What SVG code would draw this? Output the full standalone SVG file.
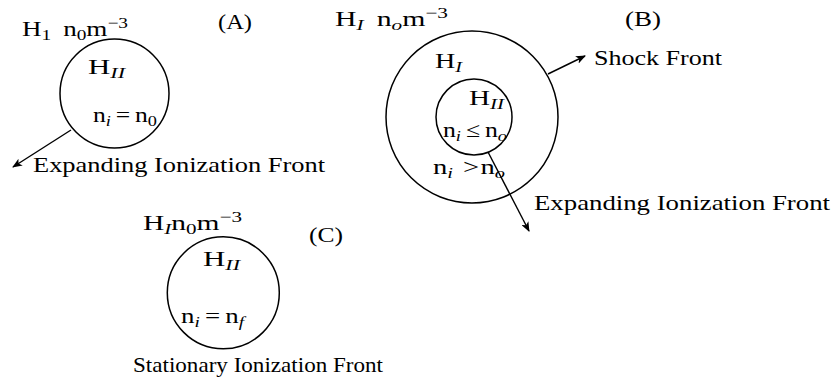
<svg xmlns="http://www.w3.org/2000/svg" width="834" height="389" viewBox="0 0 834 389">
<style>
text{font-family:"Liberation Serif","DejaVu Serif",serif;font-size:21px;fill:#000}
.sub{font-size:15px}
.it{font-style:italic}
.ring{fill:none;stroke:#000;stroke-width:1.5}
.arr{fill:none;stroke:#000;stroke-width:1.4;marker-end:url(#ah)}
</style>
<defs>
<marker id="ah" viewBox="0 0 10 8" refX="9" refY="4" markerWidth="10" markerHeight="8" markerUnits="userSpaceOnUse" orient="auto">
<path d="M0,0 L10,4 L0,8 L2.5,4 Z" fill="#000"/>
</marker>
</defs>
<rect width="834" height="389" fill="#fff"/>
<g id="panelA">
<text x="22" y="36" textLength="106" lengthAdjust="spacingAndGlyphs">H<tspan class="sub" dy="4">1</tspan><tspan dy="-4" dx="4"> n</tspan><tspan class="sub" dy="4">0</tspan><tspan dy="-4">m</tspan><tspan class="sub" dy="-8">−3</tspan></text>
<text x="218" y="29" textLength="34" lengthAdjust="spacingAndGlyphs">(A)</text>
<circle class="ring" cx="114.5" cy="93.5" r="54.5"/>
<text x="88" y="74" textLength="37" lengthAdjust="spacingAndGlyphs">H<tspan class="sub it" dy="4">II</tspan></text>
<text x="93" y="122" textLength="64" lengthAdjust="spacingAndGlyphs">n<tspan class="sub it" dy="4">i</tspan><tspan dy="-4" dx="4">=</tspan><tspan dx="4">n</tspan><tspan class="sub" dy="4">0</tspan></text>
<text x="33" y="172" textLength="292" lengthAdjust="spacingAndGlyphs">Expanding Ionization Front</text>
</g>
<g id="panelB">
<text x="335" y="25.5" textLength="113" lengthAdjust="spacingAndGlyphs">H<tspan class="sub it" dy="4">I</tspan><tspan dy="-4" dx="4"> n</tspan><tspan class="sub it" dy="4">o</tspan><tspan dy="-4">m</tspan><tspan class="sub" dy="-8">−3</tspan></text>
<text x="625" y="26" textLength="36" lengthAdjust="spacingAndGlyphs">(B)</text>
<circle class="ring" cx="472" cy="117" r="86"/>
<circle class="ring" cx="474" cy="117" r="38"/>
<text x="435" y="68" textLength="27" lengthAdjust="spacingAndGlyphs">H<tspan class="sub it" dy="4">I</tspan></text>
<text x="469" y="105" textLength="35" lengthAdjust="spacingAndGlyphs">H<tspan class="sub it" dy="4">II</tspan></text>
<text x="443" y="137" textLength="64" lengthAdjust="spacingAndGlyphs">n<tspan class="sub it" dy="4">i</tspan><tspan dy="-4" dx="4">≤</tspan><tspan dx="4">n</tspan><tspan class="sub it" dy="4">o</tspan></text>
<text x="433" y="174" textLength="72" lengthAdjust="spacingAndGlyphs">n<tspan class="sub it" dy="4">i</tspan><tspan dy="-4" dx="2"> &gt;</tspan><tspan dx="1">n</tspan><tspan class="sub it" dy="4">o</tspan></text>
<text x="594" y="65" textLength="128" lengthAdjust="spacingAndGlyphs">Shock Front</text>
<text x="534" y="210" textLength="296" lengthAdjust="spacingAndGlyphs">Expanding Ionization Front</text>
</g>
<g id="panelC">
<text x="143" y="229.5" textLength="99" lengthAdjust="spacingAndGlyphs">H<tspan class="sub it" dy="4">I</tspan><tspan dy="-4">n</tspan><tspan class="sub" dy="4">0</tspan><tspan dy="-4">m</tspan><tspan class="sub" dy="-8">−3</tspan></text>
<text x="309" y="242" textLength="34" lengthAdjust="spacingAndGlyphs">(C)</text>
<circle class="ring" cx="223.3" cy="292.8" r="56"/>
<text x="203" y="266" textLength="37" lengthAdjust="spacingAndGlyphs">H<tspan class="sub it" dy="4">II</tspan></text>
<text x="181" y="323" textLength="63" lengthAdjust="spacingAndGlyphs">n<tspan class="sub it" dy="4">i</tspan><tspan dy="-4" dx="4">=</tspan><tspan dx="4">n</tspan><tspan class="sub it" dy="4">f</tspan></text>
<text x="133" y="372" textLength="250" lengthAdjust="spacingAndGlyphs">Stationary Ionization Front</text>
</g>
<g id="connectors">
<line class="arr" x1="71" y1="130" x2="13" y2="167"/>
<line class="arr" x1="548" y1="74" x2="585" y2="56"/>
<line class="arr" x1="488" y1="152" x2="529" y2="231"/>
</g>
</svg>
